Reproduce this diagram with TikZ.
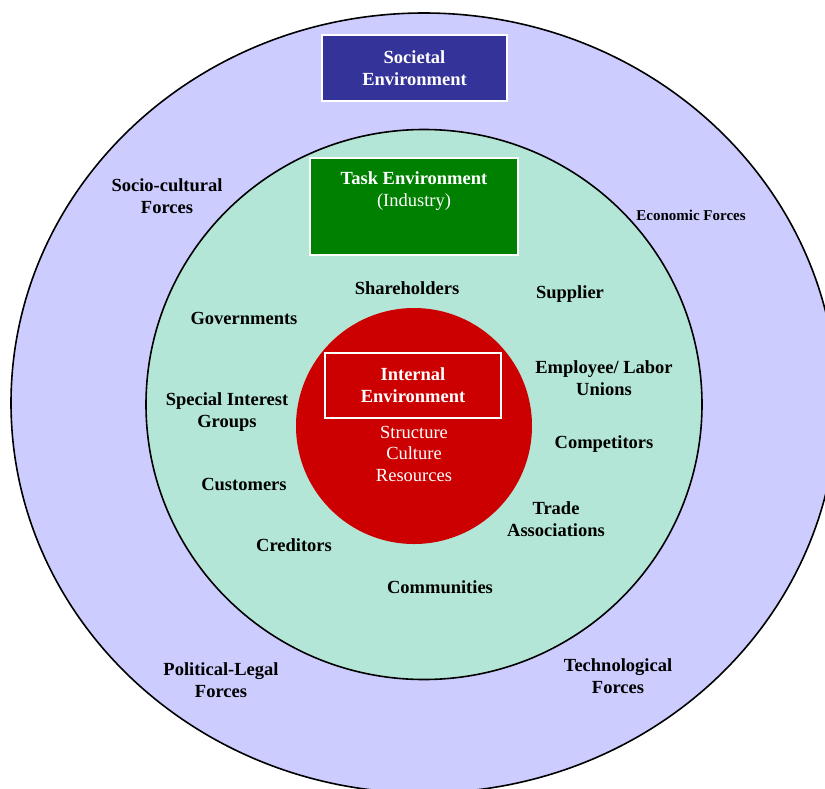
\documentclass[tikz,border=0pt]{standalone}
\usepackage{fontspec}
\setmainfont{Liberation Serif}
\usetikzlibrary{positioning}
\definecolor{ringblue}{HTML}{CCCCFF}
\definecolor{ringteal}{HTML}{B3E6D6}
\definecolor{corered}{HTML}{CC0000}
\definecolor{boxblue}{HTML}{333399}
\definecolor{boxgreen}{HTML}{008000}

\begin{document}
\begin{tikzpicture}[x=1pt,y=-1pt,
    force/.style={font=\bfseries\fontsize{18.5}{21.5}\selectfont,align=center,inner sep=0pt},
    envbox/.style={draw=white,line width=2pt,inner sep=0pt,text=white,align=center,font=\bfseries\fontsize{18.5}{21.5}\selectfont}]
        % Page
        \useasboundingbox (0,0) rectangle (825,788);
        \clip (0,0) rectangle (825,788);
        % Environment rings
        \filldraw[fill=ringblue,draw=black,line width=1.6pt](424,403)ellipse[x radius=413,y radius=390];
        \filldraw[fill=ringteal,draw=black,line width=1.6pt](424,404.5)ellipse[x radius=278,y radius=275];
        \fill[corered](414,426)circle(118);
        % Environment boxes
        \node[envbox,fill=boxblue,minimum width=185,minimum height=66](societal)at(414.5,68){Societal\\Environment};
        \node[envbox,fill=boxgreen,minimum width=208,minimum height=97](task)at(414,206.5){};
        \node[force,text=white](tasktext)at(414,191){Task Environment\\\mdseries(Industry)};
        \node[envbox,minimum width=176,minimum height=65](internal)at(413,385){Internal\\Environment};
        \node[force,text=white,font=\mdseries\fontsize{18.5}{21.5}\selectfont](resources)at(414,453.5){Structure\\Culture\\Resources};
        % Societal forces
        \node[force](sociocultural)at(167,196){Socio-cultural\\Forces};
        \node[force,font=\bfseries\fontsize{15}{18}\selectfont](economic)at(691,215){Economic Forces};
        \node[force](politicallegal)at(221,680){Political-Legal\\Forces};
        \node[force](technological)at(618,676){Technological\\Forces};
        % Task stakeholders
        \node[force](shareholders)at(407,288){Shareholders};
        \node[force](supplier)at(570,294){Supplier};
        \node[force](governments)at(244,318){Governments};
        \node[force](employee)at(604,378){Employee/ Labor\\Unions};
        \node[force](interest)at(227,412){Special Interest\\Groups};
        \node[force](competitors)at(604,444){Competitors};
        \node[force](customers)at(244,484){Customers};
        \node[force](trade)at(556,519){Trade\\Associations};
        \node[force](creditors)at(294,545){Creditors};
        \node[force](communities)at(440,587){Communities};
    \end{tikzpicture}
\end{document}
